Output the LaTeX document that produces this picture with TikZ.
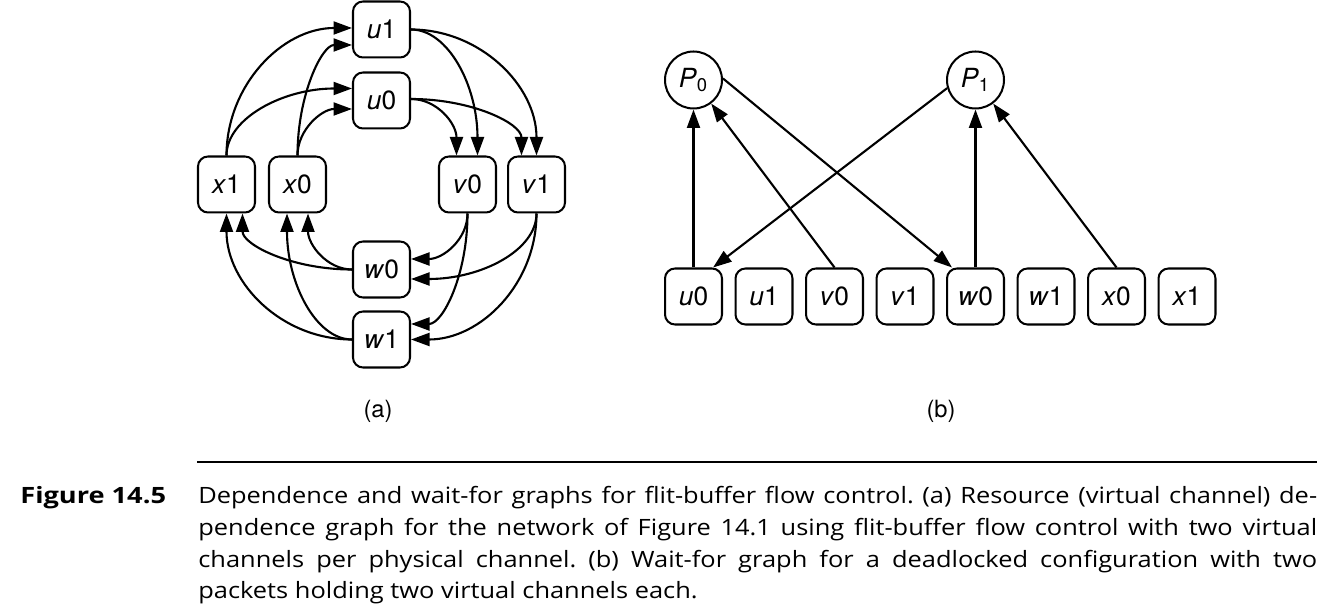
\documentclass[tikz,border=0pt]{standalone}
\usepackage{fontspec}
\setmainfont{Open Sans}[FakeStretch=1.13]
\newfontfamily\heros{TeX Gyre Heros}
\usetikzlibrary{arrows.meta,calc}
\newcommand\vcl[2]{\textit{#1}#2}
\tikzset{
  vcbox/.style={draw, rounded corners=0.2cm, minimum width=1.14cm, minimum height=1.12cm,
    inner sep=0pt, line width=1.15pt, font=\heros\fontsize{15}{18}\selectfont},
  proc/.style={draw, circle, minimum size=1.14cm, inner sep=0pt, line width=1.15pt,
    font=\heros\fontsize{15}{18}\selectfont},
  dep/.style={line width=1.2pt, -{Triangle[length=0.37cm,width=0.26cm]}},
  sublabel/.style={font=\heros\fontsize{13.5}{16}\selectfont, inner sep=0pt},
}
\begin{document}
\begin{tikzpicture}[x=0.02cm,y=-0.02cm]
\useasboundingbox (0,0) rectangle (1326,614);
% ---------- (a) ----------
\node[vcbox] (u1) at (381.5,29.5) {\vcl{u}{1}};
\node[vcbox] (u0) at (381.5,100.5) {\vcl{u}{0}};
\node[vcbox] (x1) at (226.5,184.5) {\vcl{x}{1}};
\node[vcbox] (x0) at (297.5,184.5) {\vcl{x}{0}};
\node[vcbox] (v0) at (467.5,184.5) {\vcl{v}{0}};
\node[vcbox] (v1) at (536.5,184.5) {\vcl{v}{1}};
\node[vcbox] (w0) at (381.5,269.5) {\vcl{w}{0}};
\node[vcbox] (w1) at (381.5,339.5) {\vcl{w}{1}};
\node[sublabel] (la) at (378,411) {(a)};

\draw[dep] (x1.north) .. controls +(0,-70) and +(-70,0) .. ($(u1.west)+(0,-1.5)$);
\draw[dep] (x1.north) .. controls +(0,-37) and +(-69,0) .. ($(u0.west)+(0,-12)$);
\draw[dep] (x0.north) .. controls +(0,-61) and +(-30,0) .. ($(u1.west)+(0,15.5)$);
\draw[dep] (x0.north) .. controls +(0,-26) and +(-30,0) .. ($(u0.west)+(0,8.5)$);
\draw[dep] (u1.east) .. controls +(37,0) and +(0,-70) .. ($(v0.north)+(10,0)$);
\draw[dep] (u1.east) .. controls +(69,0) and +(0,-70) .. (v1.north);
\draw[dep] ($(u0.east)+(0,-1.5)$) .. controls +(26,0) and +(0,-32) .. ($(v0.north)+(-11,0)$);
\draw[dep] ($(u0.east)+(0,-1.5)$) .. controls +(61,0) and +(0,-32) .. ($(v1.north)+(-15,0)$);
\draw[dep] (v0.south) .. controls +(0,26) and +(32,0) .. ($(w0.east)+(0,-10.5)$);
\draw[dep] (v0.south) .. controls +(0,61) and +(32,0) .. ($(w1.east)+(0,-15.5)$);
\draw[dep] (v1.south) .. controls +(0,37) and +(70,0) .. ($(w0.east)+(0,9.5)$);
\draw[dep] (v1.south) .. controls +(0,70) and +(70,0) .. (w1.east);
\draw[dep] (w0.west) .. controls +(-61,0) and +(0,31) .. ($(x1.south)+(16,0)$);
\draw[dep] (w0.west) .. controls +(-25,0) and +(0,31) .. ($(x0.south)+(10.5,0)$);
\draw[dep] (w1.west) .. controls +(-70,0) and +(0,70) .. (x1.south);
\draw[dep] (w1.west) .. controls +(-36,0) and +(0,70) .. ($(x0.south)+(-10.5,0)$);

% ---------- (b) ----------
\node[proc] (P0) at (693.5,80) {\textit{P}\textsubscript{0}};
\node[proc] (P1) at (975.5,80) {\textit{P}\textsubscript{1}};
\node[vcbox] (bu0) at (693.5,296.5) {\vcl{u}{0}};
\node[vcbox] (bu1) at (764,296.5) {\vcl{u}{1}};
\node[vcbox] (bv0) at (834.5,296.5) {\vcl{v}{0}};
\node[vcbox] (bv1) at (905,296.5) {\vcl{v}{1}};
\node[vcbox] (bw0) at (975.5,296.5) {\vcl{w}{0}};
\node[vcbox] (bw1) at (1046,296.5) {\vcl{w}{1}};
\node[vcbox] (bx0) at (1116.5,296.5) {\vcl{x}{0}};
\node[vcbox] (bx1) at (1187,296.5) {\vcl{x}{1}};
\node[sublabel] (lb) at (941,411) {(b)};

\draw[dep] (bu0.north) -- (P0.south);
\draw[dep] (bv0.north) -- (P0);
\draw[dep] (P0.3) -- (bw0.129);
\draw[dep] (P1.196) -- (bu0.56);
\draw[dep] (bw0.north) -- (P1.south);
\draw[dep] (bx0.north) -- (P1);

% ---------- caption ----------
\coordinate (rl) at (197,462);
\coordinate (rr) at (1317,462);
\draw[line width=1pt] (rl) -- (rr);
\node[anchor=base west, inner sep=0pt, font=\bfseries\fontsize{12.8}{18}\selectfont] (fig) at (20,504) {\scalebox{1.07}[1]{Figure 14.5}};
\node[anchor=base west, inner sep=0pt, text width=22.38cm, align=justify, font=\fontsize{12.8}{18}\selectfont] (cap) at (198,504)
{\frenchspacing\tolerance=10000\hyphenpenalty=10000\emergencystretch=3em
Dependence and wait-for graphs for flit-buffer flow control. (a) Resource (virtual channel) de-\linebreak
pendence graph for the network of Figure 14.1 using flit-buffer flow control with two virtual\linebreak
channels per physical channel. (b) Wait-for graph for a deadlocked configuration with two\linebreak
packets holding two virtual channels each.};
\end{tikzpicture}
\end{document}
